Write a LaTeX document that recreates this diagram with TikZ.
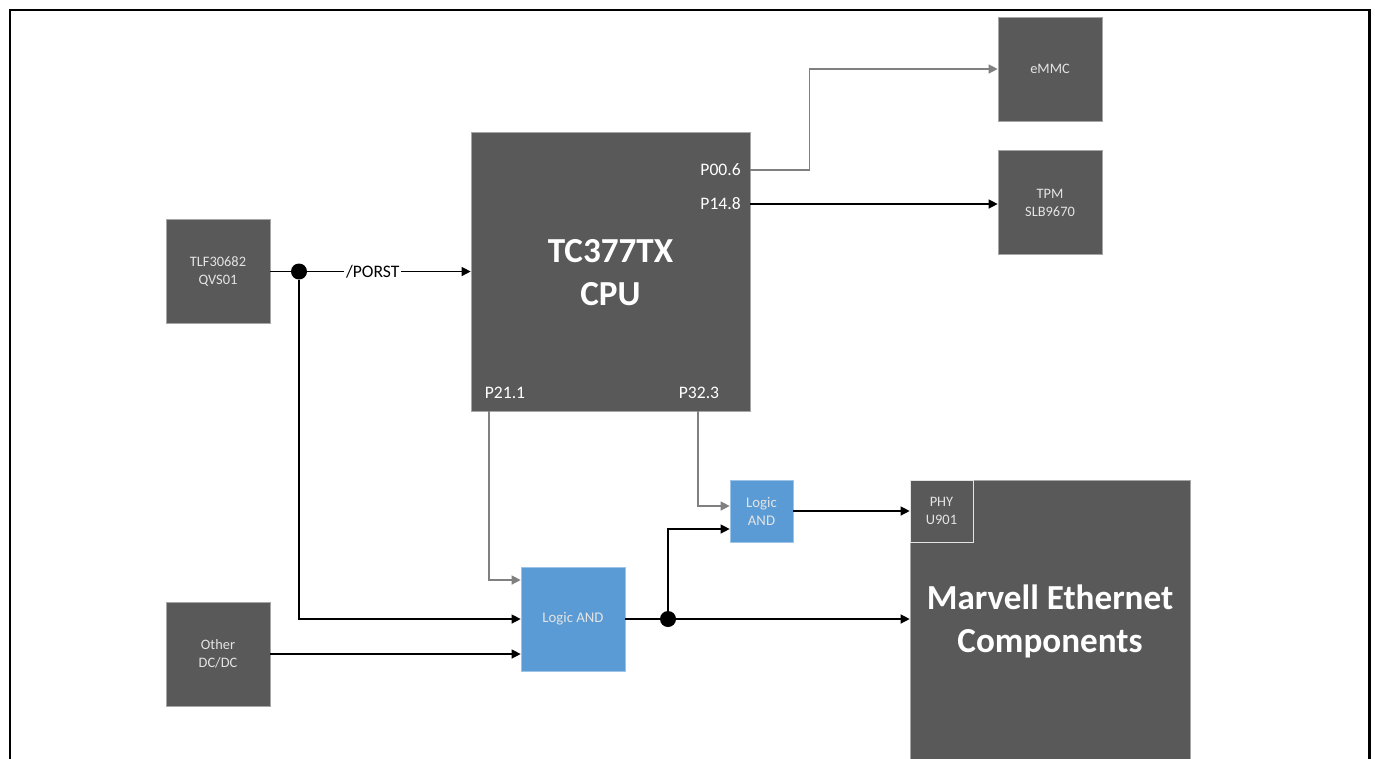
\documentclass[tikz,border=0pt]{standalone}
\usepackage{fontspec}
\setmainfont{Carlito}
\usetikzlibrary{arrows.meta}

\definecolor{boxgray}{HTML}{595959}
\definecolor{boxedge}{HTML}{A6A6A6}
\definecolor{logicblue}{HTML}{5B9BD5}
\definecolor{logicedge}{HTML}{9DC3E6}
\definecolor{labelgray}{HTML}{E4E4E4}
\definecolor{pingray}{HTML}{808080}

\tikzset{
  chip/.style={draw=boxedge,fill=boxgray,text=labelgray,align=center,
    minimum width=2.08cm,minimum height=2.08cm,inner sep=0pt,
    font=\fontsize{8.2}{10.2}\selectfont},
  logic/.style={draw=logicedge,fill=logicblue,text=labelgray,align=center,
    inner sep=0pt,font=\fontsize{8.4}{10.2}\selectfont},
  pin/.style={text=white,inner sep=0pt,font=\fontsize{10}{12}\selectfont},
  bigtext/.style={text=white,align=center,inner sep=0pt,
    font=\bfseries\fontsize{20}{24.4}\selectfont},
  wire/.style={line width=0.75pt,-{Triangle[length=0.18cm,width=0.18cm]}},
  pinwire/.style={wire,draw=pingray},
  junction/.style={circle,fill=black,inner sep=0pt,minimum size=0.32cm}
}

\begin{document}
\begin{tikzpicture}[x=0.02cm,y=-0.02cm]
\useasboundingbox (0,0) rectangle (1375,758);
\clip (0,0) rectangle (1375,758);
\draw[line width=1.7pt] (10,10) rectangle (1369,820);

\node[chip] (tlf) at (218,271.5) {TLF30682\\QVS01};
\node[chip] (dcdc) at (218,654) {Other\\DC/DC};
\node[chip] (emmc) at (1050,69) {eMMC};
\node[chip] (tpm) at (1050,202.5) {TPM\\SLB9670};
\node[draw=boxedge,fill=boxgray,minimum size=5.58cm,inner sep=0pt] (cpu) at (610.5,271.5) {};
\node[bigtext] (cputxt) at (610.5,272.5) {TC377TX\\CPU};
\node[draw=boxedge,fill=boxgray,minimum width=5.6cm,minimum height=6.4cm,inner sep=0pt] (marvell) at (1050,640) {};
\node[bigtext] (marveltxt) at (1050,621) {Marvell Ethernet\\Components};
\node[chip,draw=labelgray,minimum width=1.26cm,minimum height=1.24cm] (phy) at (941.5,511) {PHY\\U901};
\node[logic,minimum width=1.26cm,minimum height=1.24cm] (andsm) at (761.5,511) {Logic\\AND};
\node[logic,minimum width=2.08cm,minimum height=2.08cm] (andbig) at (573,619) {Logic AND};

\node[pin,anchor=east] (p006) at (741,170) {P00.6};
\node[pin,anchor=east] (p148) at (741,204) {P14.8};
\node[pin] (p211lab) at (505,393) {P21.1};
\node[pin] (p323lab) at (699,393) {P32.3};
\coordinate (p211) at (489,411);
\coordinate (p323) at (698,411);

\node[junction] (dot1) at (299,271.5) {};
\node[junction] (dot2) at (668,619) {};

\draw[line width=0.75pt] (tlf.east) -- (dot1);
\draw[wire] (dot1) -- node[pos=0.4,fill=white,inner sep=1pt,font=\fontsize{10}{12}\selectfont] {/PORST} (cpu.west);
\draw[wire] (dot1) |- (andbig.west);
\draw[wire] (dcdc.east) -- (andbig.west |- dcdc.east);
\draw[pinwire] (p211) |- ([yshift=0.78cm]andbig.west);
\draw[pinwire] (p323) |- ([yshift=0.1cm]andsm.west);
\draw[line width=0.75pt] (andbig.east) -- (dot2);
\draw[wire] (dot2) -- (marvell.west |- dot2);
\draw[wire] (dot2) |- ([yshift=-0.36cm]andsm.west);
\draw[wire] (andsm.east) -- (phy.west);
\draw[pinwire] (cpu.east |- p006) -- ++(59,0) |- (emmc.west);
\draw[wire] (cpu.east |- p148) -- (tpm.west |- p148);
\end{tikzpicture}
\end{document}
